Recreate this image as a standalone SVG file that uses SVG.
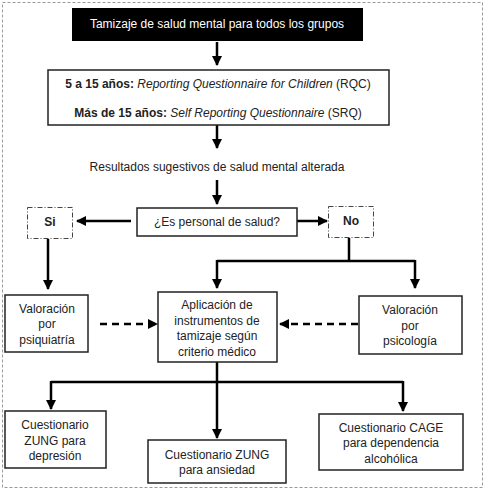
<svg xmlns="http://www.w3.org/2000/svg" width="487" height="492" viewBox="0 0 487 492">
<style>
text{font-family:"Liberation Sans",Arial,sans-serif;font-size:12px;fill:#222;text-anchor:middle}
.box{fill:#fff;stroke:#222;stroke-width:1.5}
.dd{fill:#fff;stroke:#444;stroke-width:1;stroke-dasharray:5 2 1 2}
.ln{fill:none;stroke:#000;stroke-width:2.5}
.dl{fill:none;stroke:#000;stroke-width:2.5;stroke-dasharray:7 5}
</style>
<defs>
<marker id="ah" markerUnits="userSpaceOnUse" markerWidth="10" markerHeight="10" refX="9" refY="5" orient="auto" viewBox="0 0 10 10">
<path d="M0,0 L10,5 L0,10 Z" fill="#000"/>
</marker>
</defs>
<rect x="2.5" y="2.5" width="480" height="485" fill="#fff" stroke="#999" stroke-width="1" stroke-dasharray="3 2"/>
<g id="connectors">
<line class="ln" x1="217" y1="42" x2="217" y2="65" marker-end="url(#ah)"/>
<line class="ln" x1="217" y1="125" x2="217" y2="148" marker-end="url(#ah)"/>
<line class="ln" x1="217" y1="180" x2="217" y2="204" marker-end="url(#ah)"/>
<line class="ln" x1="131" y1="221" x2="77" y2="221" marker-end="url(#ah)"/>
<line class="ln" x1="297" y1="221" x2="327" y2="221" marker-end="url(#ah)"/>
<line class="ln" x1="48" y1="239" x2="48" y2="289" marker-end="url(#ah)"/>
<line class="ln" x1="349" y1="238" x2="349" y2="261"/>
<line class="ln" x1="217" y1="261" x2="415" y2="261"/>
<line class="ln" x1="217" y1="260" x2="217" y2="288" marker-end="url(#ah)"/>
<line class="ln" x1="415" y1="260" x2="415" y2="288" marker-end="url(#ah)"/>
<line class="dl" x1="100" y1="324" x2="157" y2="324" marker-end="url(#ah)"/>
<line class="dl" x1="358" y1="324" x2="280" y2="324" marker-end="url(#ah)"/>
<line class="ln" x1="217" y1="362" x2="217" y2="438" marker-end="url(#ah)"/>
<line class="ln" x1="51" y1="382" x2="403" y2="382"/>
<line class="ln" x1="51" y1="381" x2="51" y2="409" marker-end="url(#ah)"/>
<line class="ln" x1="403" y1="381" x2="403" y2="411" marker-end="url(#ah)"/>
</g>
<g id="n-top"><rect x="72" y="8" width="291" height="33" fill="#000"/><text x="217" y="28" style="fill:#fff">Tamizaje de salud mental para todos los grupos</text></g>
<g id="n-cuestionarios"><rect class="box" x="48" y="70" width="341" height="55"/>
<text x="218" y="88"><tspan font-weight="bold">5 a 15 años:</tspan> <tspan font-style="italic">Reporting Questionnaire for Children</tspan> (RQC)</text>
<text x="218" y="117"><tspan font-weight="bold">Más de 15 años:</tspan> <tspan font-style="italic">Self Reporting Questionnaire</tspan> (SRQ)</text></g>
<g id="n-resultados"><text x="217" y="171">Resultados sugestivos de salud mental alterada</text></g>
<g id="n-pregunta"><rect class="box" x="137" y="208" width="160" height="28"/><text x="217" y="226">¿Es personal de salud?</text></g>
<g id="n-si"><rect class="dd" x="27.5" y="207.5" width="45" height="31"/><text x="50" y="226" font-weight="bold">Si</text></g>
<g id="n-no"><rect class="dd" x="328.5" y="206.5" width="45" height="31"/><text x="351" y="225" font-weight="bold">No</text></g>
<g id="n-psiquiatria"><rect class="box" x="5" y="295" width="83" height="57"/><text x="47" y="313">Valoración</text><text x="47" y="328">por</text><text x="47" y="344">psiquiatría</text></g>
<g id="n-aplicacion"><rect class="box" x="158" y="292" width="119" height="70"/><text x="217" y="309">Aplicación de</text><text x="217" y="325">instrumentos de</text><text x="217" y="340">tamizaje según</text><text x="217" y="356">criterio médico</text></g>
<g id="n-psicologia"><rect class="box" x="359" y="296" width="103" height="58"/><text x="410" y="314">Valoración</text><text x="410" y="330">por</text><text x="410" y="345">psicología</text></g>
<g id="n-zung-dep"><rect class="box" x="5" y="411" width="101" height="57"/><text x="55" y="429">Cuestionario</text><text x="55" y="445">ZUNG para</text><text x="55" y="460">depresión</text></g>
<g id="n-zung-ans"><rect class="box" x="148" y="440" width="138" height="43"/><text x="217" y="459">Cuestionario ZUNG</text><text x="217" y="474">para ansiedad</text></g>
<g id="n-cage"><rect class="box" x="319" y="414" width="144" height="56"/><text x="391" y="432">Cuestionario CAGE</text><text x="391" y="447">para dependencia</text><text x="391" y="463">alcohólica</text></g>
</svg>
